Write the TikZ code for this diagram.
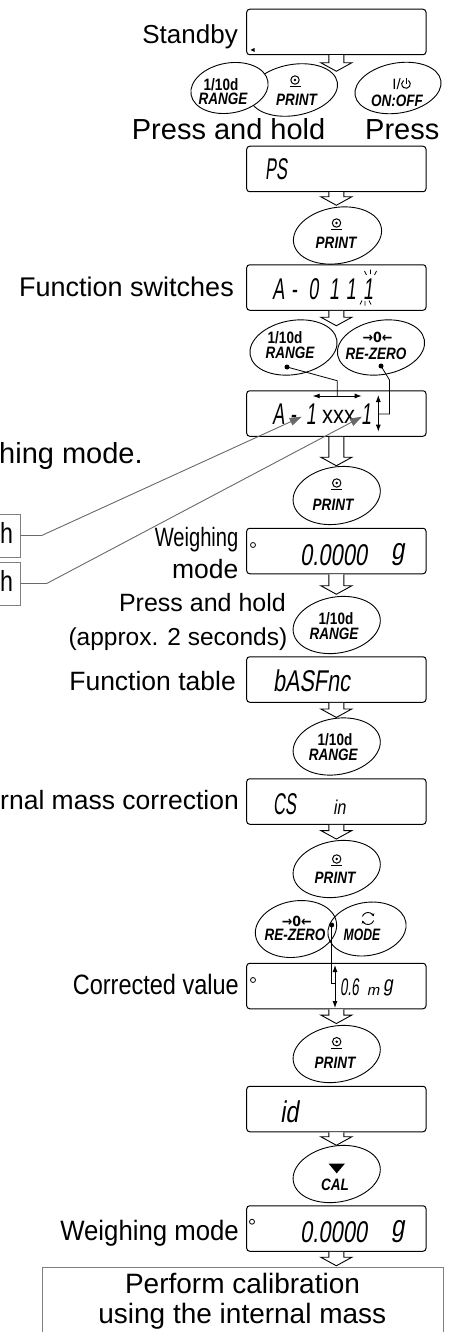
\documentclass[tikz,border=0pt]{standalone}
\usepackage{fontspec}
\setmainfont{Liberation Sans}
\newfontfamily\dispfont{Liberation Sans}[FakeSlant=0.2]
\newfontfamily\symfont{DejaVu Sans}
\usetikzlibrary{shapes.geometric,arrows.meta,calc}
\definecolor{lgray}{RGB}{128,128,128}
\definecolor{agray}{RGB}{105,105,105}
\tikzset{
 dbox/.style={draw, rounded corners=3pt, line width=1pt, minimum width=179.3pt, minimum height=45.5pt, inner sep=0},
 btn/.style={draw, ellipse, line width=0.9pt, inner sep=0, rotate=10},
 lab/.style={inner sep=0, font=\fontsize{26.5}{30}\selectfont},
 btxt/.style={inner sep=0, xscale=0.82, font=\fontsize{16.5}{18}\selectfont\bfseries\itshape},
 ntxt/.style={inner sep=0, xscale=0.82, font=\fontsize{16.5}{18}\selectfont\bfseries},
 disp/.style={inner sep=0, anchor=base west, font=\fontsize{30}{32}\dispfont},
 blockarrow/.style={draw, fill=white, line width=0.9pt, line join=miter},
 dot/.style={circle, fill, inner sep=0, minimum size=5pt},
 conn/.style={line width=0.8pt},
 ptr/.style={draw=agray, line width=0.9pt, -{Triangle[length=12pt,width=8pt]}, color=agray},
 dbl/.style={line width=0.9pt, {Latex[length=7pt,width=5pt]}-{Latex[length=7pt,width=5pt]}},
 pics/printsym/.style={code={\draw[line width=1pt] (0,0) circle (4.2); \fill (0,0) circle (1.4); \draw[line width=1.4pt] (-5.5,6.5) -- (5.5,6.5);}},
}
\newcommand{\blkarrow}[2]{\draw[blockarrow] ($(#1.south)+(-7.5,0)$) -- ++(0,{#2-8.5}) -- ++(-8,0) -- ++(15.5,8.5) -- ++(15.5,-8.5) -- ++(-8,0) -- ++(0,{8.5-#2});}
\begin{document}
\begin{tikzpicture}[x=1pt,y=-1pt]
\path[use as bounding box] (0,0) rectangle (454,1332);
\clip (0,0) rectangle (454,1332);

% display boxes
\foreach \n/\y in {b1/32,b2/169,b3/287.5,b4/413.5,b5/551,b6/679.5,b7/801.5,b8/986,b9/1109,b10/1228.5}
  \node[dbox] (\n) at (336.35,\y) {};
% final box and left boxes
\node[draw=lgray, line width=1pt, minimum width=401.6pt, minimum height=90pt, anchor=north west, inner sep=0] (fb) at (41.7,1266.7) {};
\node[draw=lgray, line width=1pt, minimum width=70pt, minimum height=43pt, anchor=east, inner sep=0] (lb1) at (20.7,535.5) {};
\node[draw=lgray, line width=1pt, minimum width=70pt, minimum height=43pt, anchor=east, inner sep=0] (lb2) at (20.7,583.5) {};

% block arrows
\blkarrow{b1}{16}
\blkarrow{b2}{13}
\blkarrow{b3}{15}
\blkarrow{b4}{29}
\blkarrow{b5}{20}
\blkarrow{b6}{14.7}
\blkarrow{b7}{14.3}
\blkarrow{b8}{14.3}
\blkarrow{b9}{13}
\blkarrow{b10}{14}

% buttons
\node[btn, minimum width=89pt, minimum height=51pt] (e2) at (293.5,90) {};
\node[btn, minimum width=78pt, minimum height=50pt, fill=white] (e1) at (229.5,88) {};
\node[btn, minimum width=87pt, minimum height=50pt] (e3) at (398,88) {};
\node[btn, minimum width=89pt, minimum height=56pt] (e4) at (337.5,235.5) {};
\node[btn, minimum width=88pt, minimum height=54pt] (e5) at (293.5,347.5) {};
\node[btn, minimum width=88pt, minimum height=54pt] (e6) at (381,347.5) {};
\node[btn, minimum width=88pt, minimum height=57pt] (e7) at (336.7,495.5) {};
\node[btn, minimum width=88pt, minimum height=56pt] (e8) at (336.7,625) {};
\node[btn, minimum width=88pt, minimum height=56pt] (e9) at (336.7,746.5) {};
\node[btn, minimum width=88pt, minimum height=56pt] (e10) at (336.7,869) {};
\node[btn, minimum width=82pt, minimum height=56pt] (e11) at (296,929) {};
\node[btn, minimum width=79pt, minimum height=53pt] (e12) at (367,929) {};
\node[btn, minimum width=88pt, minimum height=56pt] (e13) at (336.7,1054) {};
\node[btn, minimum width=88pt, minimum height=56pt] (e14) at (336.7,1174) {};

% button texts
\node[ntxt] (t1a) at (221,85) {1/10d};
\node[btxt] (t1b) at (223,99) {RANGE};
\pic at (295,80) {printsym};
\node[btxt] (t2) at (296.5,100) {PRINT};
\node[inner sep=0, font=\fontsize{15}{16}\selectfont, anchor=east] (t3a) at (401,84) {I/};
\draw[line width=1pt] ([shift={(-55:4.3)}]406,84) arc[start angle=-55, end angle=235, radius=4.3];
\draw[line width=1pt] (406,78) -- (406,84);
\node[btxt] (t3b) at (397,101) {ON:OFF};

\pic at (336.5,223) {printsym};
\node[btxt] (t4) at (336,243) {PRINT};
\node[ntxt] (t5a) at (285,337.5) {1/10d};
\node[btxt] (t5b) at (290,353) {RANGE};
\node[inner sep=0, xscale=0.9, font=\fontsize{14}{16}\symfont\bfseries] (t6a) at (377.5,337) {→0←};
\node[btxt] (t6b) at (376,353.5) {RE-ZERO};
\pic at (336.7,483) {printsym};
\node[btxt] (t7) at (333,505) {PRINT};
\node[ntxt] (t8a) at (336,619) {1/10d};
\node[btxt] (t8b) at (334,634) {RANGE};
\node[ntxt] (t9a) at (335,740) {1/10d};
\node[btxt] (t9b) at (333.3,755) {RANGE};
\pic at (336.7,859) {printsym};
\node[btxt] (t10) at (335,878.3) {PRINT};
\node[inner sep=0, xscale=0.9, font=\fontsize{14}{16}\symfont\bfseries] (t11a) at (296.7,921) {→0←};
\node[btxt] (t11b) at (295,935) {RE-ZERO};
\draw[line width=0.9pt, -{Stealth[length=3pt,width=3.5pt]}] ([shift={(200:6)}]368,918.5) arc[start angle=200, end angle=340, radius=6];
\draw[line width=0.9pt, -{Stealth[length=3pt,width=3.5pt]}] ([shift={(20:6)}]368,918.5) arc[start angle=20, end angle=160, radius=6];
\node[btxt, xscale=0.9] (t12) at (362,935) {MODE};
\pic at (336.7,1041.7) {printsym};
\node[btxt] (t13) at (335,1063.3) {PRINT};
\fill (328.5,1163.5) -- (345,1163.5) -- (336.7,1173.3) -- cycle;
\node[btxt] (t14) at (335,1185) {CAL};

% labels
\node[lab, font=\fontsize{26}{30}\selectfont, anchor=base east] (lSt) at (238,43.6) {Standby};
\node[lab, font=\fontsize{29}{32}\selectfont, anchor=base west] (lPH) at (131.7,140) {Press and hold};
\node[lab, font=\fontsize{29}{32}\selectfont, anchor=base west] (lP) at (365,140) {Press};
\node[lab, font=\fontsize{27}{30}\selectfont, anchor=base east] (lFS) at (234,296) {Function switches};
\node[lab, font=\fontsize{29}{32}\selectfont, anchor=base west] (lHM) at (-1,463) {hing mode.};
\node[lab, font=\fontsize{29}{32}\selectfont, anchor=base west, xscale=0.8] (lh1) at (0,543.5) {h};
\node[lab, font=\fontsize{29}{32}\selectfont, anchor=base west, xscale=0.8] (lh2) at (0,591.5) {h};
\node[lab, anchor=base east, xscale=0.76] (lW1) at (238.5,546.7) {Weighing};
\node[lab, anchor=base east] (lM1) at (238.5,578) {mode};
\node[lab, font=\fontsize{25}{28}\selectfont, anchor=base east] (lPH2) at (286,611) {Press and hold};
\node[lab, font=\fontsize{24.5}{28}\selectfont, anchor=base east] (lAp) at (287.5,645) {(approx. 2 seconds)};
\node[lab, anchor=base east] (lFT) at (236,690) {Function table};
\node[lab, anchor=base east] (lIM) at (239,809) {rnal mass correction};
\node[lab, font=\fontsize{28}{30}\selectfont, anchor=base east, xscale=0.84] (lCV) at (239,994) {Corrected value};
\node[lab, font=\fontsize{28}{30}\selectfont, anchor=base east, xscale=0.92] (lWM) at (239,1240) {Weighing mode};
\node[lab, font=\fontsize{28}{30}\selectfont, anchor=base] (lPC) at (242.5,1293.3) {Perform calibration};
\node[lab, font=\fontsize{28}{30}\selectfont, anchor=base] (lUI) at (242.3,1323) {using the internal mass};

% display contents
\fill (250.5,50) -- (254.5,48) -- (254.5,52) -- cycle;
\node[disp, xscale=0.55] (dPS) at (265,180) {PS};
\node[disp, xscale=0.6, anchor=base] (dA1) at (278.3,299) {A};
\node[disp, xscale=0.6, anchor=base] (dA2) at (294,299) {-};
\node[disp, xscale=0.6, anchor=base] (dA3) at (313.5,299) {0};
\node[disp, xscale=0.6, anchor=base] (dA4) at (334,299) {1};
\node[disp, xscale=0.6, anchor=base] (dA5) at (351,299) {1};
\node[disp, xscale=0.6, anchor=base] (dA6) at (368,299) {1};
\draw[line width=0.7pt] (364.5,271) -- (366.5,275) (370.5,269.5) -- (370.5,274) (376.5,271) -- (374.5,275)
  (360,304.5) -- (362,300.5) (365,305.5) -- (365,301) (371,304.5) -- (369,300.5);
\node[disp, xscale=0.6, anchor=base] (dB1) at (278.3,424) {A};
\node[disp, xscale=0.6, anchor=base] (dB2) at (293,424) {-};
\node[disp, xscale=0.6, anchor=base] (dB3) at (311,424) {1};
\node[inner sep=0, anchor=base, xscale=0.88, font=\fontsize{25}{28}\selectfont] (dB4) at (338.5,423.5) {xxx};
\node[disp, xscale=0.6, anchor=base] (dB5) at (366,424) {1};
\draw[line width=0.8pt] (253,545) circle (2.5);
\node[disp, xscale=0.73] (dW1) at (300,565) {0.0000};
\node[disp, xscale=0.8] (dW1g) at (391,559) {g};
\node[disp, xscale=0.72] (dFT) at (273,691) {bASFnc};
\node[disp, xscale=0.55] (dCS) at (273,814) {CS};
\node[disp, xscale=0.8, font=\fontsize{20}{22}\dispfont] (dIn) at (333,814) {in};
\draw[line width=0.8pt] (253,980) circle (2.5);
\node[disp, xscale=0.56, font=\fontsize{24}{26}\dispfont] (dCV) at (340,995) {0.6};
\node[disp, font=\fontsize{15}{16}\dispfont] (dCm) at (366.7,995) {m};
\node[disp, xscale=0.8, font=\fontsize{22}{24}\dispfont] (dCg) at (383,991) {g};
\node[disp, xscale=0.78] (dId) at (280,1122) {id};
\draw[line width=0.8pt] (252,1221.7) circle (2.5);
\node[disp, xscale=0.73] (dW2) at (300,1242) {0.0000};
\node[disp, xscale=0.8] (dW2g) at (391,1236) {g};

% key-to-digit connectors
\node[dot] (d1) at (287,367) {};
\node[dot] (d2) at (381,366) {};
\node[dot] (d3) at (331.7,925) {};
\coordinate (hL) at (312.7,396);
\coordinate (hR) at (361.7,396);
\coordinate (vT) at (378.3,395);
\coordinate (vB) at (378.3,431.7);
\draw[dbl] (hL) -- (hR);
\draw[dbl] (vT) -- (vB);
\draw[conn] (d1.center) -- (337.2,380.7) -- ($(hL)!0.5!(hR)$);
\draw[conn] (d2.center) -- (389.5,380) -- (389.5,414) -- (vT |- 0,414);
\coordinate (wT) at (335,965);
\coordinate (wB) at (335,1008);
\draw[dbl] (wT) -- (wB);
\draw[conn] (d3.center) -- (331.7,983.3) -- (wT |- 0,983.3);

% gray pointers
\coordinate (p1) at (301.7,416.7);
\coordinate (p2) at (362,416.7);
\draw[ptr] (lb1.east) -- (41.7,535.5) -- (p1);
\draw[ptr] (lb2.east) -- (46.7,583.5) -- (p2);
\end{tikzpicture}
\end{document}
